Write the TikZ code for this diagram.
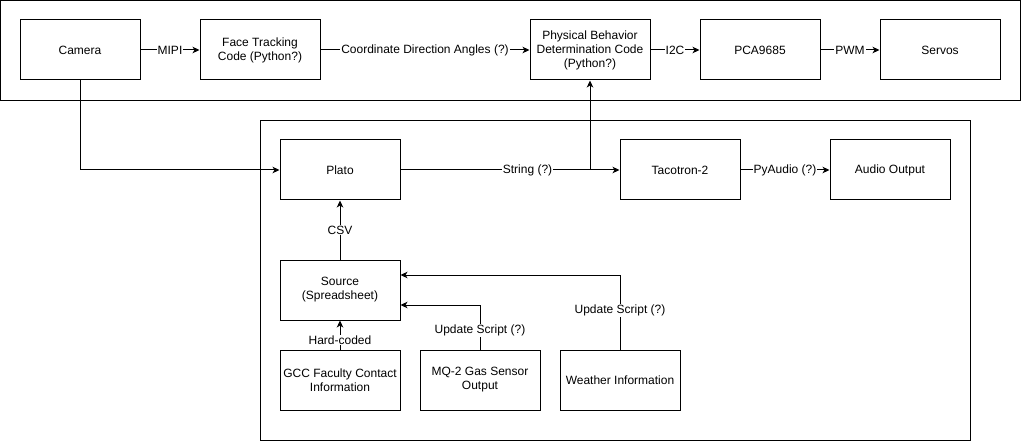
\documentclass[tikz,border=0pt]{standalone}
\usepackage{fontspec}
\setmainfont{Liberation Sans}
\usetikzlibrary{arrows.meta}
\begin{document}
\begin{tikzpicture}[x=1pt,y=-1pt, line width=1pt,
 box/.style={draw, minimum width=120pt, minimum height=60pt, align=center, font=\fontsize{12}{14}\selectfont, inner sep=0pt},
 frame/.style={draw, inner sep=0pt},
 lbl/.style={fill=white, inner sep=1pt, font=\fontsize{12}{14}\selectfont},
 arr/.style={-{Stealth[length=7pt,width=6.5pt,inset=2pt]}}]
\useasboundingbox (0,0) rectangle (1021,441);
% containers
\node[frame, minimum width=1020pt, minimum height=100pt] (topframe) at (510.5,50.5) {};
\node[frame, minimum width=710pt, minimum height=320pt] (botframe) at (615.5,280.5) {};
% top row
\node[box] (cam) at (80,50) {Camera};
\node[box] (face) at (260,50) {Face Tracking\\Code (Python?)};
\node[box] (phys) at (590,50) {Physical Behavior\\Determination Code\\(Python?)};
\node[box] (pca) at (760,50) {PCA9685};
\node[box] (servo) at (940,50) {Servos};
% lower
\node[box] (plato) at (340,170) {Plato};
\node[box] (taco) at (680,170) {Tacotron-2};
\node[box] (audio) at (890,170) {Audio Output};
\node[box] (source) at (340,290) {Source\\(Spreadsheet)};
\node[box] (gcc) at (340,380) {GCC Faculty Contact\\Information};
\node[box] (mq) at (480,380) {MQ-2 Gas Sensor\\Output};
\node[box] (weather) at (620,380) {Weather Information};
% edges top
\draw[arr] (cam) -- node[lbl]{MIPI} (face);
\draw[arr] (face) -- node[lbl]{Coordinate Direction Angles (?)} (phys);
\draw[arr] (phys) -- node[lbl]{I2C} (pca);
\draw[arr] (pca) -- node[lbl]{PWM} (servo);
% camera to plato
\draw[arr] (cam.south) |- (plato.west);
% plato to tacotron
\draw[arr] (plato) -- node[lbl, pos=0.58]{String (?)} (taco);
\coordinate (br) at (phys.south |- plato.east);
\draw[arr] (br) -- (phys.south);
\draw[arr] (taco) -- node[lbl]{PyAudio (?)} (audio);
% source
\draw[arr] (source) -- node[lbl]{CSV} (plato);
\draw[arr] (gcc) -- node[lbl, pos=0.33]{Hard-coded} (source);
\coordinate (mqin) at ([yshift=-15pt]source.east);
\coordinate (mqc) at (mq.north |- mqin);
\draw[arr] (mq.north) -- node[lbl, pos=0.42]{Update Script (?)} (mqc) -- (mqin);
\coordinate (wein) at ([yshift=15pt]source.east);
\coordinate (wec) at (weather.north |- wein);
\draw[arr] (weather.north) -- node[lbl, pos=0.52]{Update Script (?)} (wec) -- (wein);
\end{tikzpicture}
\end{document}
